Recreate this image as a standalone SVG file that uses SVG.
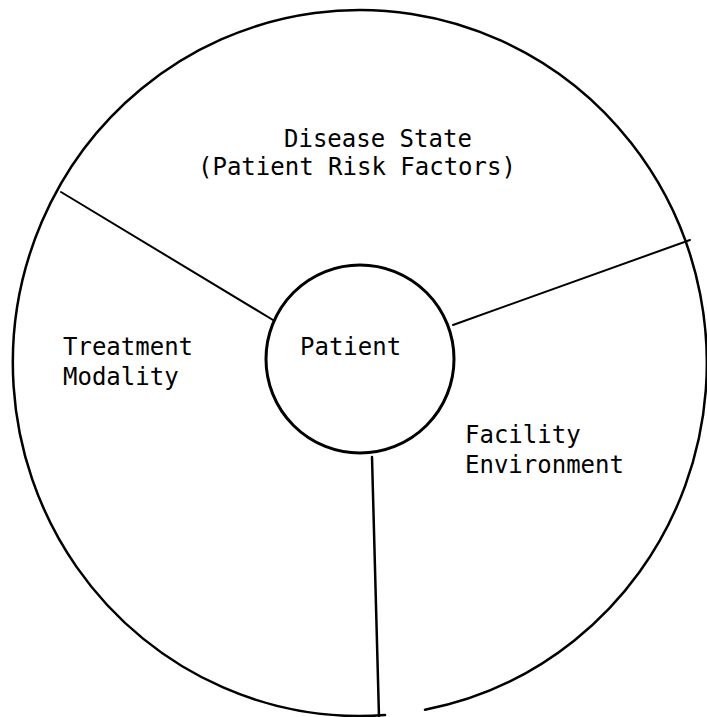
<svg xmlns="http://www.w3.org/2000/svg" width="707" height="717" viewBox="0 0 707 717">
<style>
.t{font-family:"DejaVu Sans Mono","Liberation Mono",monospace;font-size:24px;fill:#000}
.s{fill:none;stroke:#000;stroke-linecap:round}
</style>
<rect width="707" height="717" fill="#fff"/>
<g id="outer">
<path class="s" stroke-width="2.5" d="M 425 709.75 A 347 353 0 1 0 385 715.1"/>
</g>
<g id="connectors">
<line class="s" stroke-width="2" x1="61" y1="192" x2="273" y2="320"/>
<line class="s" stroke-width="2" x1="690" y1="240" x2="453" y2="325"/>
<line class="s" stroke-width="2.5" x1="372" y1="457" x2="379" y2="717"/>
</g>
<g id="disease-state">
<text class="t" x="284" y="147">Disease State</text>
<text class="t" x="198" y="175">(Patient Risk Factors)</text>
</g>
<g id="treatment-modality">
<text class="t" x="63" y="355">Treatment</text>
<text class="t" x="63" y="385">Modality</text>
</g>
<g id="facility-environment">
<text class="t" x="465" y="443">Facility</text>
<text class="t" x="465" y="473">Environment</text>
</g>
<g id="patient">
<circle class="s" stroke-width="3" cx="360" cy="359" r="94"/>
<text class="t" x="300" y="355">Patient</text>
</g>
</svg>
